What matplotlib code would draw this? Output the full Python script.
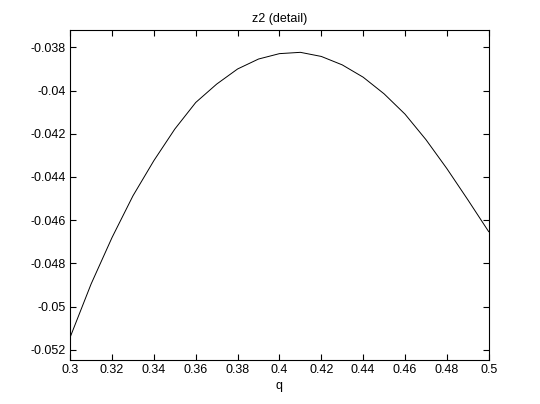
import matplotlib
matplotlib.use("Agg")
import matplotlib.pyplot as plt
from matplotlib.ticker import FixedLocator, FixedFormatter

q = [0.30, 0.31, 0.32, 0.33, 0.34, 0.35, 0.36, 0.37, 0.38, 0.39, 0.40,
     0.41, 0.42, 0.43, 0.44, 0.45, 0.46, 0.47, 0.48, 0.49, 0.50]
z2 = [-0.05141, -0.04895, -0.04680, -0.04487, -0.04324, -0.04178, -0.04055,
      -0.03970, -0.03900, -0.03854, -0.03829, -0.03823, -0.03842, -0.03881,
      -0.03938, -0.04015, -0.04109, -0.04227, -0.04361, -0.04505, -0.04653]

xticks = [0.30, 0.32, 0.34, 0.36, 0.38, 0.40, 0.42, 0.44, 0.46, 0.48, 0.50]
xticklabels = ["0.3", "0.32", "0.34", "0.36", "0.38", "0.4", "0.42", "0.44", "0.46", "0.48", "0.5"]
yticks = [-0.052, -0.050, -0.048, -0.046, -0.044, -0.042, -0.040, -0.038]
yticklabels = ["-0.052", "-0.05", "-0.048", "-0.046", "-0.044", "-0.042", "-0.04", "-0.038"]

plt.rcParams['font.family'] = ['Liberation Sans', 'DejaVu Sans']
plt.rcParams['font.size'] = 9

fig = plt.figure(figsize=(5.4, 4.04), dpi=100, facecolor='white')
ax = fig.add_axes([0.13, 0.11, 0.775, 0.815])
ax.plot(q, z2, color='black', linewidth=0.7)
ax.set_xlim(0.3, 0.5)
ax.set_ylim(-0.05245, -0.03721)
ax.xaxis.set_major_locator(FixedLocator(xticks))
ax.xaxis.set_major_formatter(FixedFormatter(xticklabels))
ax.yaxis.set_major_locator(FixedLocator(yticks))
ax.yaxis.set_major_formatter(FixedFormatter(yticklabels))
ax.tick_params(direction='in', top=True, right=True, length=4, width=0.8,
               labelsize=9, pad=3)
for s in ax.spines.values():
    s.set_linewidth(0.8)
ax.set_title("z2 (detail)", fontsize=9, pad=6)
ax.set_xlabel("q", fontsize=9, labelpad=3)
fig.savefig("out.png", dpi=100, facecolor='white')
